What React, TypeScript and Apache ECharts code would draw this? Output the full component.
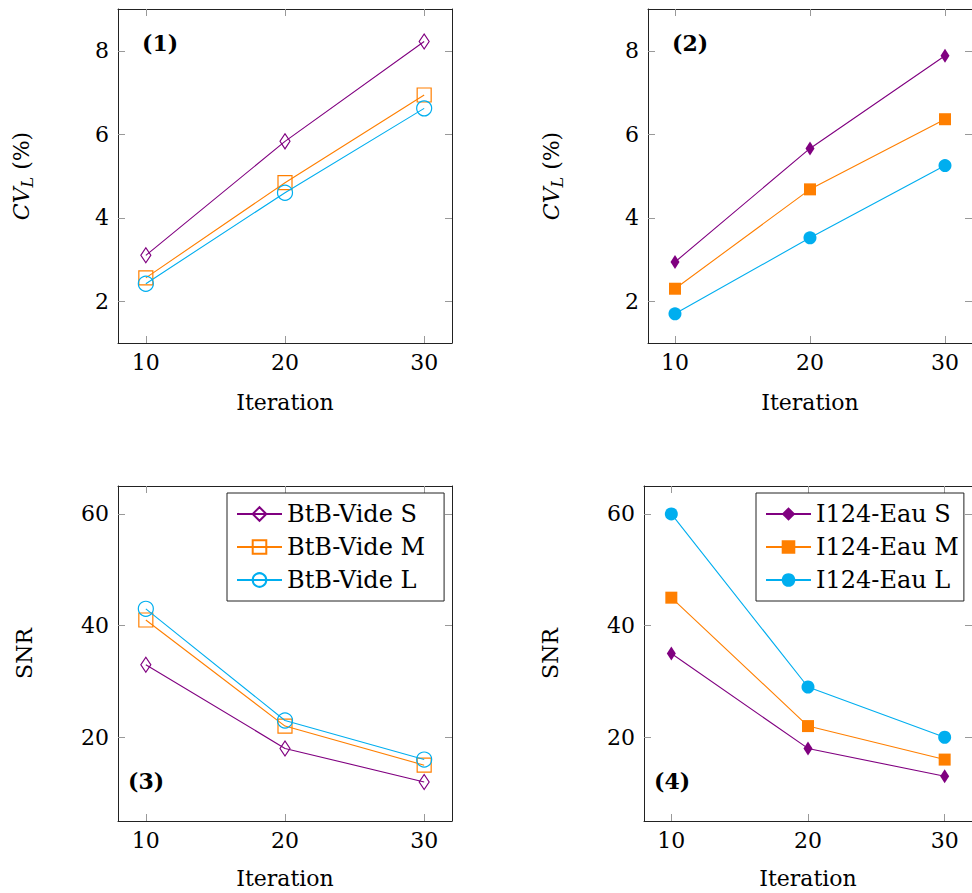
import React, { useEffect, useRef } from "react";
import * as echarts from "echarts";

// ---- data ----
const iterations = [10, 20, 30];
const xTicks = [10, 20, 30];
const cvTicks = [2, 4, 6, 8];
const snrTicks = [20, 40, 60];

const btbNames = ["BtB-Vide S", "BtB-Vide M", "BtB-Vide L"];
const eauNames = ["I124-Eau S", "I124-Eau M", "I124-Eau L"];

const btbCvS = [3.1, 5.83, 8.22];
const btbCvM = [2.56, 4.84, 6.94];
const btbCvL = [2.42, 4.6, 6.62];

const eauCvS = [2.94, 5.66, 7.88];
const eauCvM = [2.3, 4.68, 6.36];
const eauCvL = [1.7, 3.52, 5.25];

const btbSnrS = [33, 18, 12];
const btbSnrM = [41, 22, 15];
const btbSnrL = [43, 23, 16];

const eauSnrS = [35, 18, 13];
const eauSnrM = [45, 22, 16];
const eauSnrL = [60, 29, 20];

const panelLabels = ["(1)", "(2)", "(3)", "(4)"];

// ---- styles ----
const FONT = "DejaVu Serif";
const COLORS = ["#800080", "#ff7f00", "#00aeef"];
const FS = 22;
const LEGEND_FS = 24;

const grids = [
  { left: 118, top: 9, width: 334, height: 334 },
  { left: 648, top: 9, width: 334, height: 334 },
  { left: 118, top: 486, width: 334, height: 335 },
  { left: 644, top: 486, width: 334, height: 335 },
];

const pairs = (ys: number[]) => iterations.map((x, i) => [x, ys[i]]);

const tickStyle = { color: "#999", width: 1 };
const lineAxis = { show: true, onZero: false, lineStyle: { color: "#222", width: 1 } };

function xAxes() {
  const bottom = grids.map((_, i) => ({
    type: "value",
    gridIndex: i,
    position: "bottom",
    min: 8,
    max: 32,
    axisLine: lineAxis,
    axisTick: { show: true, inside: true, length: 7, customValues: xTicks, lineStyle: tickStyle },
    axisLabel: { customValues: xTicks, margin: 8, fontSize: FS, fontFamily: FONT, color: "#000" },
    splitLine: { show: false },
    name: "Iteration",
    nameLocation: "middle",
    nameGap: i < 2 ? 48 : 46,
    nameTextStyle: { fontSize: FS, fontFamily: FONT, color: "#000" },
  }));
  const top = grids.map((_, i) => ({
    type: "value",
    gridIndex: i,
    position: "top",
    min: 8,
    max: 32,
    axisLine: lineAxis,
    axisTick: { show: true, inside: true, length: 7, customValues: xTicks, lineStyle: tickStyle },
    axisLabel: { show: false },
    splitLine: { show: false },
  }));
  return [...bottom, ...top];
}

function yAxes() {
  const cvName = "{i|CV}{s|L} (%)";
  const rich = {
    i: { fontStyle: "italic", fontSize: FS, fontFamily: FONT, color: "#000" },
    s: { fontStyle: "italic", fontSize: 16, fontFamily: FONT, color: "#000", padding: [12, 0, 0, 0] },
  };
  const left = grids.map((_, i) => {
    const isCv = i < 2;
    const ticks = isCv ? cvTicks : snrTicks;
    return {
      type: "value",
      gridIndex: i,
      position: "left",
      min: isCv ? 1 : 5,
      max: isCv ? 9 : 65,
      axisLine: lineAxis,
      axisTick: { show: true, inside: true, length: 7, customValues: ticks, lineStyle: tickStyle },
      axisLabel: { customValues: ticks, margin: 9, fontSize: FS, fontFamily: FONT, color: "#000" },
      splitLine: { show: false },
      name: isCv ? cvName : "SNR",
      nameLocation: "middle",
      nameRotate: 90,
      nameGap: 83,
      nameTextStyle: { fontSize: FS, fontFamily: FONT, color: "#000", rich },
    };
  });
  const right = grids.map((_, i) => {
    const isCv = i < 2;
    const ticks = isCv ? cvTicks : snrTicks;
    return {
      type: "value",
      gridIndex: i,
      position: "right",
      min: isCv ? 1 : 5,
      max: isCv ? 9 : 65,
      axisLine: lineAxis,
      axisTick: { show: true, inside: true, length: 7, customValues: ticks, lineStyle: tickStyle },
      axisLabel: { show: false },
      splitLine: { show: false },
    };
  });
  return [...left, ...right];
}

const HOLLOW = "rgba(0,0,0,0)";

function makeSeries(
  names: string[],
  vals: number[][],
  gridIdx: number,
  filled: boolean
) {
  const symbols = ["diamond", "rect", "circle"];
  const sizesHollow: any[] = [[10, 15], 14, 15];
  const sizesFilled: any[] = [[9, 14], 12, 13];
  return names.map((name, k) => ({
    type: "line",
    name,
    xAxisIndex: gridIdx,
    yAxisIndex: gridIdx,
    data: pairs(vals[k]),
    symbol: symbols[k],
    symbolSize: filled ? sizesFilled[k] : sizesHollow[k],
    lineStyle: { color: COLORS[k], width: 1.1 },
    itemStyle: filled
      ? { color: COLORS[k], borderWidth: 0 }
      : { color: HOLLOW, borderColor: COLORS[k], borderWidth: 1.2 },
    z: 3 + k,
  }));
}

function legendCfg(names: string[], left: number, padRight: number) {
  return {
    orient: "vertical",
    left,
    top: 493,
    data: names,
    itemWidth: 45,
    itemHeight: 17,
    itemGap: 7,
    padding: [8, padRight, 8, 9],
    borderColor: "#222",
    borderWidth: 1,
    backgroundColor: "#fff",
    textStyle: { fontSize: LEGEND_FS, fontFamily: FONT, color: "#000", lineHeight: 26 },
    selectedMode: false,
  };
}

const labelPos = [
  [142, 43],
  [672, 43],
  [128, 781],
  [654, 781],
];

export default function App() {
  const ref = useRef<HTMLDivElement>(null);
  useEffect(() => {
    if (!ref.current) return;
    const chart = echarts.init(ref.current, undefined, { renderer: "svg" });
    const option: any = {
      animation: false,
      backgroundColor: "#fff",
      grid: grids,
      xAxis: xAxes(),
      yAxis: yAxes(),
      legend: [legendCfg(btbNames, 227, 19), legendCfg(eauNames, 756, 5)],
      series: [
        ...makeSeries(btbNames, [btbCvS, btbCvM, btbCvL], 0, false),
        ...makeSeries(eauNames, [eauCvS, eauCvM, eauCvL], 1, true),
        ...makeSeries(btbNames, [btbSnrS, btbSnrM, btbSnrL], 2, false),
        ...makeSeries(eauNames, [eauSnrS, eauSnrM, eauSnrL], 3, true),
      ],
      graphic: panelLabels.map((t, i) => ({
        type: "text",
        x: labelPos[i][0],
        y: labelPos[i][1],
        z: 10,
        style: {
          text: t,
          font: `bold ${FS}px ${FONT}`,
          fill: "#000",
          textAlign: "left",
          textVerticalAlign: "middle",
        },
      })),
    };
    chart.setOption(option);
    return () => chart.dispose();
  }, []);
  return (
    <div
      ref={ref}
      style={{ position: "fixed", left: 0, top: 0, width: 972, height: 893, background: "#fff" }}
    />
  );
}
